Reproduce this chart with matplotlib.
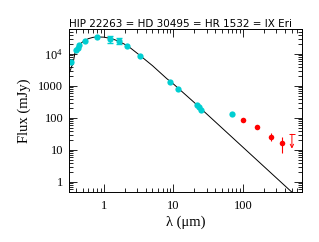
import matplotlib
matplotlib.use("Agg")
import matplotlib.pyplot as plt
from matplotlib.ticker import LogLocator, NullFormatter, FixedLocator, FixedFormatter

# photometry (cyan): wavelength in micron, flux in mJy
cyan_wl = [0.34, 0.40, 0.42, 0.44, 0.54, 0.79, 2.14, 3.32, 8.9, 11.6, 21.8, 23.3, 24.6, 70.0]
cyan_flux = [5500, 13300, 15800, 19000, 25000, 34000, 18000, 8700, 1360, 830, 250, 215, 180, 130]

# cyan points with error bars
cyan_err_wl = [1.22, 1.64]
cyan_err_flux = [29500, 25000]
cyan_err_lo = [21600, 20000]
cyan_err_hi = [37300, 31000]

# far-IR / submm detections (red)
red_wl = [100, 160, 254, 355]
red_flux = [87, 52, 26, 16]
red_lo = [87, 52, 18.5, 7.8]
red_hi = [87, 52, 33, 24.7]

# upper limit (red arrow)
lim_wl = [500]
lim_top = [31]
lim_bottom = [11]

# photospheric model curve
model_wl = [0.32, 0.335, 0.344, 0.36, 0.37, 0.385, 0.40, 0.42, 0.46, 0.5, 0.6, 0.7, 0.8,
            1.0, 1.3, 1.6, 2.2, 3.3, 5.0, 8.0, 10, 20, 40, 100, 200, 500, 700]
model_flux = [2600, 3300, 4000, 4800, 6500, 10500, 13500, 16000, 20500, 24000, 30000,
              33000, 34000, 33500, 30000, 25500, 18000, 9000, 4300, 1700, 1150, 300,
              75, 12, 3, 0.48, 0.25]

title = "HIP 22263 = HD 30495 = HR 1532 = IX Eri"

serif = "Liberation Serif"
plt.rcParams["mathtext.fontset"] = "custom"
plt.rcParams["mathtext.rm"] = serif
plt.rcParams["mathtext.it"] = serif + ":italic"

fig = plt.figure(figsize=(3.19, 2.42), dpi=100)
ax = fig.add_axes([0.216, 0.207, 0.731, 0.673])

ax.plot(model_wl, model_flux, color="black", lw=0.7)

cyan = "#00CED1"
ax.plot(cyan_wl, cyan_flux, "o", color=cyan, ms=4.5, mec="none")
ax.errorbar(cyan_err_wl, cyan_err_flux,
            yerr=[[f - l for f, l in zip(cyan_err_flux, cyan_err_lo)],
                  [h - f for f, h in zip(cyan_err_flux, cyan_err_hi)]],
            fmt="o", color=cyan, ms=4.5, mec="none", elinewidth=0.8, capsize=2)

ax.errorbar(red_wl, red_flux,
            yerr=[[f - l for f, l in zip(red_flux, red_lo)],
                  [h - f for f, h in zip(red_flux, red_hi)]],
            fmt="o", color="red", ms=4, mec="none", elinewidth=0.8, capsize=0)

for x, t, b in zip(lim_wl, lim_top, lim_bottom):
    ax.annotate("", xy=(x, b), xytext=(x, t),
                arrowprops=dict(arrowstyle="->", color="red", lw=0.7,
                                shrinkA=0, shrinkB=0, mutation_scale=6))
ax.plot(lim_wl, lim_top, "_", color="red", ms=5, mew=0.7)

ax.set_xscale("log")
ax.set_yscale("log")
ax.set_xlim(0.316, 700)
ax.set_ylim(0.49, 60000)

ax.xaxis.set_major_locator(FixedLocator([1, 10, 100]))
ax.xaxis.set_major_formatter(FixedFormatter(["1", "10", "100"]))
ax.yaxis.set_major_locator(FixedLocator([1, 10, 100, 1000, 1e4]))
ax.yaxis.set_major_formatter(FixedFormatter(["1", "10", "100", "1000", r"$\mathrm{10^4}$"]))
ax.xaxis.set_minor_locator(LogLocator(base=10, subs=range(2, 10)))
ax.yaxis.set_minor_locator(LogLocator(base=10, subs=range(2, 10)))
ax.xaxis.set_minor_formatter(NullFormatter())
ax.yaxis.set_minor_formatter(NullFormatter())
ax.tick_params(which="both", direction="in", top=True, right=True, width=0.6)
ax.tick_params(which="major", length=6)
ax.tick_params(which="minor", length=3)
for lab in ax.get_xticklabels() + ax.get_yticklabels():
    lab.set_fontfamily(serif)
    lab.set_fontsize(9)
ax.tick_params(axis="x", pad=6)
ax.tick_params(axis="y", pad=4)
for s in ax.spines.values():
    s.set_linewidth(0.7)

ax.set_xlabel("λ (μm)", family=serif, fontsize=10.5, labelpad=2)
ax.set_ylabel("Flux (mJy)", family=serif, fontsize=10.5, labelpad=5)
ax.set_title(title, fontsize=7.5, loc="left", pad=1.5)

fig.savefig("out.png", dpi=100)
